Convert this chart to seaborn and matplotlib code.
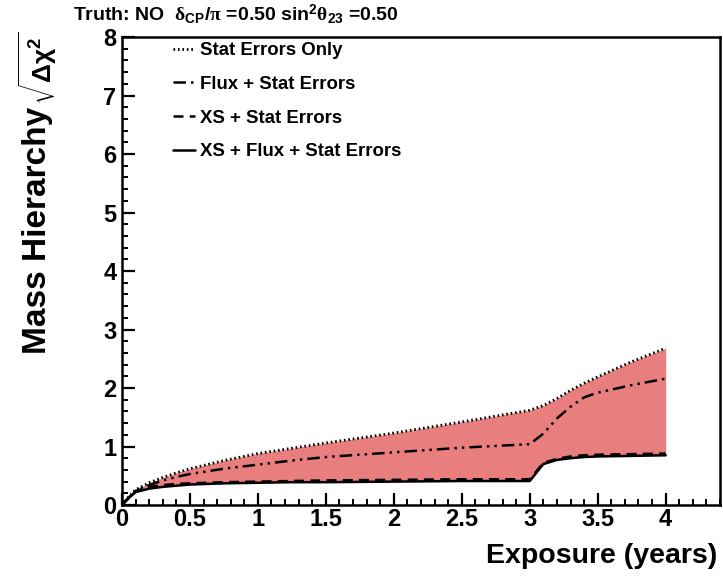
import numpy as np
import pandas as pd
import matplotlib
matplotlib.use("Agg")
import matplotlib.pyplot as plt
import seaborn as sns
from matplotlib.ticker import MultipleLocator

# Exposure in years and the mass-hierarchy sensitivity for each error treatment
exposure = [0, 0.05, 0.1, 0.2, 0.3, 0.4, 0.5, 0.75, 1.0, 1.25, 1.5, 2.0, 2.5,
            3.0, 3.1, 3.2, 3.3, 3.4, 3.5, 3.75, 4.0]
stat_only = [0, 0.14, 0.26, 0.38, 0.47, 0.55, 0.62, 0.76, 0.88, 0.97, 1.06, 1.23, 1.42,
             1.62, 1.70, 1.82, 1.96, 2.08, 2.19, 2.45, 2.68]
flux_stat = [0, 0.13, 0.24, 0.34, 0.42, 0.48, 0.53, 0.62, 0.69, 0.76, 0.82, 0.90, 0.98,
             1.04, 1.22, 1.48, 1.68, 1.84, 1.92, 2.05, 2.16]
xs_stat = [0, 0.12, 0.24, 0.31, 0.34, 0.36, 0.37, 0.39, 0.40, 0.41, 0.42, 0.43, 0.44,
           0.44, 0.72, 0.79, 0.83, 0.85, 0.86, 0.87, 0.88]
xs_flux_stat = [0, 0.12, 0.22, 0.28, 0.31, 0.33, 0.35, 0.37, 0.38, 0.39, 0.39, 0.40, 0.41,
                0.41, 0.70, 0.77, 0.80, 0.82, 0.83, 0.84, 0.85]

series_labels = ["Stat Errors Only", "Flux + Stat Errors", "XS + Stat Errors",
                 "XS + Flux + Stat Errors"]
x_tick_labels = ["0", "0.5", "1", "1.5", "2", "2.5", "3", "3.5", "4"]

sns.set_theme(style="white")
plt.rcParams["font.family"] = ["Liberation Sans", "DejaVu Sans"]
plt.rcParams["font.weight"] = "bold"
plt.rcParams["text.color"] = "black"
plt.rcParams["axes.labelcolor"] = "black"
plt.rcParams["xtick.color"] = "black"
plt.rcParams["ytick.color"] = "black"
plt.rcParams["mathtext.fontset"] = "custom"
plt.rcParams["mathtext.rm"] = "Liberation Sans:bold"
plt.rcParams["mathtext.bf"] = "Liberation Sans:bold"
plt.rcParams["mathtext.it"] = "Liberation Serif"
plt.rcParams["mathtext.sf"] = "Liberation Sans"

df = pd.DataFrame({"exposure": exposure, "stat": stat_only, "flux": flux_stat,
                   "xs": xs_stat, "xsflux": xs_flux_stat})

fig = plt.figure(figsize=(7.23, 5.81), dpi=100)
ax = fig.add_axes([0.1687, 0.1308, 0.8272, 0.8055])

# Band between the statistics-only and the full systematics curves
ax.fill_between(df["exposure"], df["xsflux"], df["stat"], color="#E97E7E", lw=0, zorder=1)

styles = [("stat", (0.6, 1.0), 2.0),
          ("flux", (5.0, 2.0, 1.0, 2.0, 1.0, 2.0), 1.8),
          ("xs", (4.0, 2.5), 1.8),
          ("xsflux", None, 1.8)]
handles = []
for (col, dash, lw), lab in zip(styles, series_labels):
    sns.lineplot(data=df, x="exposure", y=col, ax=ax, color="black", lw=lw,
                 label=lab, zorder=3)
    line = ax.lines[-1]
    if dash is not None:
        line.set_dashes(dash)
    handles.append(line)

ax.set_xlim(0, 4.4)
ax.set_ylim(0, 8)
ax.xaxis.set_minor_locator(MultipleLocator(0.1))
ax.yaxis.set_major_locator(MultipleLocator(1))
ax.yaxis.set_minor_locator(MultipleLocator(0.2))
ax.set_xticks([float(t) for t in x_tick_labels])
ax.set_xticklabels(x_tick_labels)

ax.tick_params(which="major", direction="in", length=9, width=1.6, labelsize=17,
               colors="black")
ax.tick_params(axis="x", which="major", pad=2)
ax.tick_params(axis="y", which="major", pad=4)
ax.tick_params(which="minor", direction="in", length=4.5, width=1.4, colors="black")
ax.tick_params(axis="x", which="both", top=False, bottom=True)
ax.tick_params(axis="y", which="both", left=True, right=False)
for lab in ax.get_xticklabels() + ax.get_yticklabels():
    lab.set_fontweight("bold")
for sp in ax.spines.values():
    sp.set_linewidth(1.8)
    sp.set_color("black")

ax.set_xlabel("")
ax.set_ylabel("")
fig.text(0.992, 0.043, "Exposure (years)", ha="right", va="center",
         fontsize=20.5, fontweight="bold")
# y-axis title: bold words plus a lighter square-root symbol above them
fig.text(0.052, 0.39, "Mass Hierarchy", rotation=90, ha="center", va="bottom",
         fontsize=24, fontweight="bold")
fig.text(0.052, 0.945, r"$\sqrt{\mathsf{\Delta\chi^{2}}}$", rotation=90,
         ha="center", va="top", fontsize=19)
fig.text(0.101, 0.975,
         r"Truth: NO  $\delta_{\mathrm{CP}}/\pi$ =0.50 sin$^{\mathrm{2}}\theta_{\mathrm{23}}$ =0.50",
         ha="left", va="center", fontsize=14, fontweight="bold")

ax.legend(handles=handles, labels=series_labels, loc="upper left",
          bbox_to_anchor=(0.057, 1.025), frameon=False,
          handlelength=1.2, handletextpad=0.25, labelspacing=0.9,
          prop={"weight": "bold", "size": 13.4})

fig.savefig("out.png", dpi=100)
